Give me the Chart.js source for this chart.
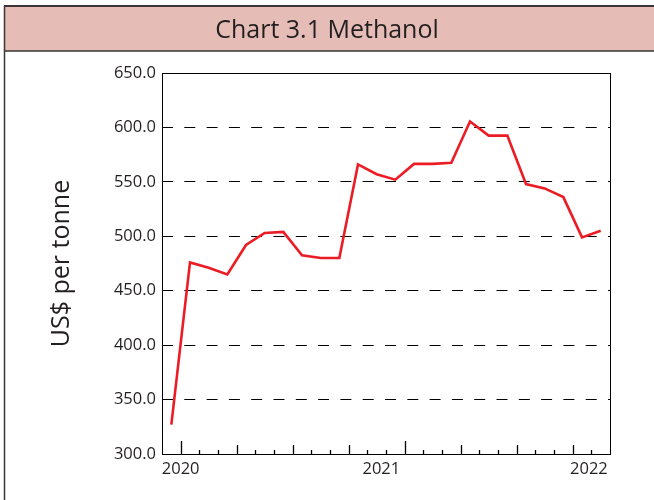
<!DOCTYPE html>
<html>
<head>
<meta charset="utf-8">
<title>Chart 3.1 Methanol</title>
<script src="https://cdn.jsdelivr.net/npm/chart.js@4.4.1/dist/chart.umd.min.js"></script>
<style>
    html, body { margin: 0; padding: 0; background: #fff; }
    #wrap { width: 654px; height: 500px; }
</style>
</head>
<body>
<div id="wrap"><canvas id="methanolChart" width="654" height="500"></canvas></div>
<script>
// ---- Data (monthly, US$ per tonne) ----
const months = [
    'Dec 2019', 'Jan 2020', 'Feb 2020', 'Mar 2020', 'Apr 2020', 'May 2020',
    'Jun 2020', 'Jul 2020', 'Aug 2020', 'Sep 2020', 'Oct 2020', 'Nov 2020',
    'Dec 2020', 'Jan 2021', 'Feb 2021', 'Mar 2021', 'Apr 2021', 'May 2021',
    'Jun 2021', 'Jul 2021', 'Aug 2021', 'Sep 2021', 'Oct 2021', 'Nov 2021'
];
const prices = [
    327, 476, 471, 465, 492, 503, 504, 482.5, 480, 480, 566, 557,
    552, 566.5, 566.5, 567.5, 605.5, 592.5, 592.5, 548, 544, 536, 499, 505
];
const yearLabels = ['2020', '2021', '2022'];
const yearLabelPos = [0.5, 11.25, 22.37];   // where the year text sits on the month axis
const yTicks = [300, 350, 400, 450, 500, 550, 600, 650];

const INK = '#231f20';
Chart.defaults.font.family = "'Open Sans', sans-serif";
Chart.defaults.color = INK;

// header band, outer box, plot frame and month tick marks
const decorations = {
    id: 'decorations',
    beforeDraw(chart) {
        const c = chart.ctx;
        c.save();
        c.fillStyle = '#fff';
        c.fillRect(0, 0, chart.width, chart.height);
        c.fillStyle = '#e5bdb6';
        c.fillRect(4, 6, chart.width - 4, 45);
        c.strokeStyle = '#3a3536';
        c.lineWidth = 2;
        c.beginPath();
        c.moveTo(4, 6); c.lineTo(chart.width, 6);
        c.stroke();
        c.lineWidth = 1.5;
        c.beginPath();
        c.moveTo(4.5, 6); c.lineTo(4.5, chart.height);
        c.moveTo(4, 51); c.lineTo(chart.width, 51);
        c.stroke();
        c.restore();
    },
    afterDatasetsDraw(chart) {
        const c = chart.ctx;
        const a = chart.chartArea;
        const x = chart.scales.x;
        c.save();
        c.strokeStyle = '#000';
        c.lineWidth = 1;
        c.strokeRect(Math.round(a.left) + 0.5, Math.round(a.top) + 0.5,
            Math.round(a.right - a.left), Math.round(a.bottom - a.top));
        // month boundary ticks pointing into the plot
        c.lineWidth = 1.3;
        c.beginPath();
        for (let k = 1; k < months.length; k++) {
            const px = Math.round(x.getPixelForValue(k - 0.5)) + 0.5;
            const m = months[k].slice(0, 3);
            let len = 4;
            if (m === 'Jan') len = 13;
            else if (m === 'Apr' || m === 'Jul' || m === 'Oct') len = 9;
            c.moveTo(px, a.bottom);
            c.lineTo(px, a.bottom - len);
        }
        c.stroke();
        c.restore();
    }
};

new Chart(document.getElementById('methanolChart'), {
    type: 'line',
    data: {
        datasets: [{
            label: 'Methanol',
            data: prices.map((v, i) => ({ x: i, y: v })),
            borderColor: '#ec1c24',
            borderWidth: 2.6,
            pointRadius: 0,
            tension: 0,
            fill: false
        }]
    },
    options: {
        responsive: false,
        animation: false,
        layout: { padding: { top: 6, right: 0, bottom: 0, left: 0 } },
        plugins: {
            legend: { display: false },
            tooltip: { enabled: false },
            title: {
                display: true,
                text: 'Chart 3.1 Methanol',
                color: INK,
                font: { size: 25, weight: 'normal', lineHeight: 1.2 },
                padding: { top: 10, bottom: 27 }
            }
        },
        scales: {
            x: {
                type: 'linear',
                min: -0.5,
                max: 23.5,
                bounds: 'data',
                grid: { display: false, drawTicks: false },
                border: { display: false },
                afterBuildTicks: (s) => { s.ticks = yearLabelPos.map(v => ({ value: v })); },
                afterFit: (s) => { s.height = 46; },
                ticks: {
                    autoSkip: false,
                    maxRotation: 0,
                    padding: 5,
                    font: { size: 16.5 },
                    callback: (v, i) => yearLabels[i]
                }
            },
            y: {
                min: 300,
                max: 650,
                afterBuildTicks: (s) => { s.ticks = yTicks.map(v => ({ value: v })); },
                afterFit: (s) => { s.width = 162; },
                grid: {
                    drawTicks: false,
                    lineWidth: 1,
                    color: (ctx) => (ctx.tick && (ctx.tick.value === 300 || ctx.tick.value === 650))
                        ? 'rgba(0,0,0,0)' : '#000'
                },
                border: { display: false, dash: [11, 11.3] },
                ticks: {
                    padding: 6,
                    font: { size: 16.5 },
                    callback: (v) => Number(v).toFixed(1)
                },
                title: {
                    display: true,
                    text: 'US$ per tonne',
                    color: INK,
                    font: { size: 25, lineHeight: 1.2 },
                    padding: { top: 47, bottom: 0 }
                }
            },
            // empty right-hand margin so the title stays centred on the page
            yRight: {
                position: 'right',
                min: 300,
                max: 650,
                grid: { display: false, drawTicks: false },
                border: { display: false },
                ticks: { display: false },
                afterFit: (s) => { s.width = 44; }
            }
        }
    },
    plugins: [decorations]
});
</script>
</body>
</html>
